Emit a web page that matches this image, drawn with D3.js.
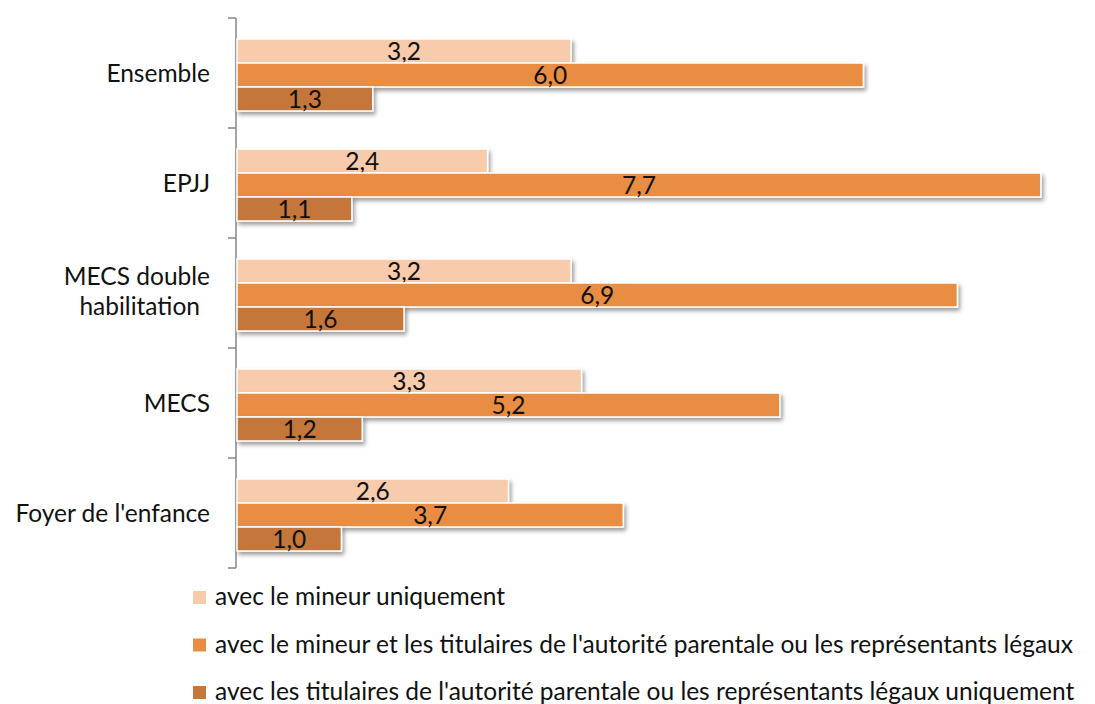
<!DOCTYPE html>
<html lang="fr">
<head>
    <meta charset="UTF-8">
    <script src="https://cdn.jsdelivr.net/npm/d3@7"></script>
    <title>Bar chart</title>
    <style>
        body { margin: 0; background: white; }
        text { font-family: Lato, "Open Sans", sans-serif; fill: #111; }
    </style>
</head>
<body>
    <div class="fig"></div>
    <script>
        // data
        const categories = ["Ensemble", "EPJJ", "MECS double habilitation", "MECS", "Foyer de l'enfance"];
        const seriesNames = [
            "avec le mineur uniquement",
            "avec le mineur et les titulaires de l'autorité parentale ou les représentants légaux",
            "avec les titulaires de l'autorité parentale ou les représentants légaux uniquement"
        ];
        const mineurSeul = [3.2, 2.4, 3.2, 3.3, 2.6];
        const mineurEtParents = [6.0, 7.7, 6.9, 5.2, 3.7];
        const parentsSeuls = [1.3, 1.1, 1.6, 1.2, 1.0];
        const colors = ["#F8CBAD", "#E88D42", "#C5763A"];

        const width = 1095, height = 704;
        const fontSize = 24.5;
        const svg = d3.select(".fig").append("svg")
            .attr("width", width)
            .attr("height", height);

        const defs = svg.append("defs");
        defs.append("filter").attr("id", "shadow")
            .attr("x", "-5%").attr("y", "-30%").attr("width", "115%").attr("height", "180%")
            .append("feDropShadow")
            .attr("dx", 2).attr("dy", 3).attr("stdDeviation", 2)
            .attr("flood-color", "#000").attr("flood-opacity", 0.4);

        const x = d3.scaleLinear().domain([0, 8]).range([237, 237 + 8 * 104.4]);
        const y = d3.scaleBand().domain(categories).range([18, 568]);
        const sub = d3.scaleBand().domain([0, 1, 2]).range([21, 21 + 72]);

        const series = [mineurSeul, mineurEtParents, parentsSeuls];

        // axis
        const axis = svg.append("g");
        axis.append("line")
            .attr("x1", 236).attr("x2", 236)
            .attr("y1", y.range()[0]).attr("y2", y.range()[1])
            .attr("stroke", "#868686").attr("stroke-width", 1.5);
        const tickPos = categories.map(c => y(c)).concat([y.range()[1]]);
        axis.selectAll(".tick").data(tickPos).enter().append("line")
            .attr("x1", 228).attr("x2", 236)
            .attr("y1", d => d).attr("y2", d => d)
            .attr("stroke", "#868686").attr("stroke-width", 1.5);

        // category labels
        categories.forEach(c => {
            const cy = y(c) + y.bandwidth() / 2;
            const t = svg.append("text")
                .attr("text-anchor", "end")
                .attr("font-size", fontSize);
            if (c === "MECS double habilitation") {
                t.append("tspan").attr("x", 210).attr("y", cy - 8).text("MECS double");
                t.append("tspan").attr("x", 200).attr("y", cy + 22).text("habilitation");
            } else {
                t.attr("x", 210).attr("y", cy + 9).text(c);
            }
        });

        // bars
        series.forEach((vals, si) => {
            const g = svg.append("g");
            g.selectAll("rect").data(vals).enter().append("rect")
                .attr("x", x(0))
                .attr("y", (d, i) => y(categories[i]) + sub(si))
                .attr("width", d => x(d) - x(0))
                .attr("height", sub.bandwidth())
                .attr("fill", colors[si])
                .attr("stroke", "white")
                .attr("stroke-width", 1.5)
                .attr("filter", "url(#shadow)");
            g.selectAll("text").data(vals).enter().append("text")
                .attr("x", d => (x(d) + x(0)) / 2)
                .attr("y", (d, i) => y(categories[i]) + sub(si) + sub.bandwidth() / 2 + 9)
                .attr("text-anchor", "middle")
                .attr("font-size", fontSize)
                .text(d => d.toFixed(1).replace(".", ","));
        });

        // legend
        const legend = svg.append("g");
        seriesNames.forEach((name, i) => {
            const ly = 605 + i * 47.5;
            legend.append("rect")
                .attr("x", 193).attr("y", ly - 14).attr("width", 13).attr("height", 13)
                .attr("fill", colors[i]);
            legend.append("text")
                .attr("x", 215).attr("y", ly)
                .attr("font-size", fontSize)
                .text(name);
        });
    </script>
</body>
</html>
